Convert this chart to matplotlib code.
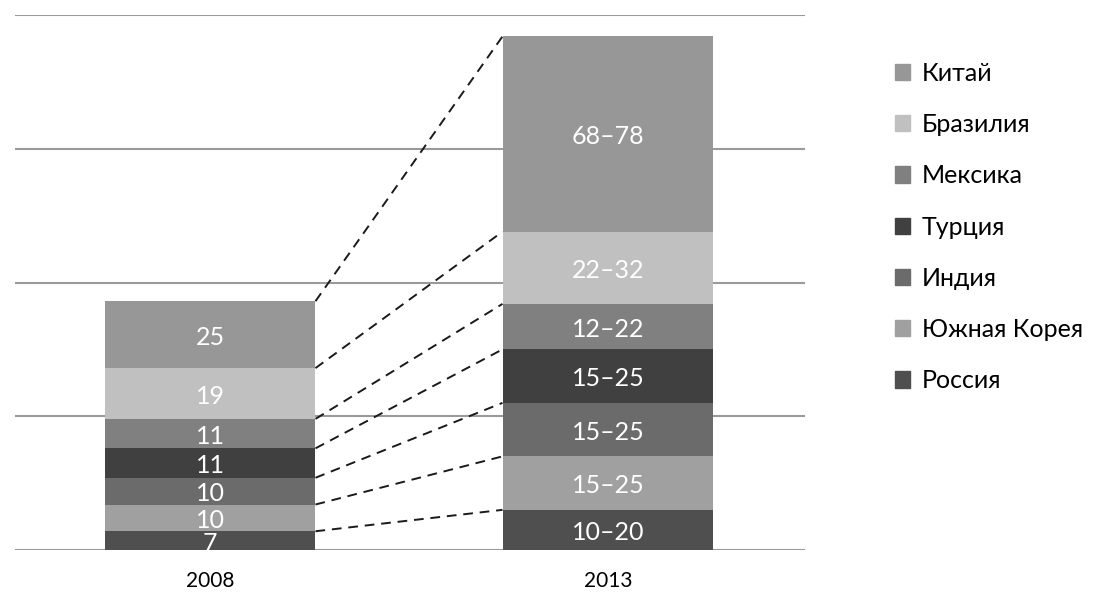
import matplotlib.pyplot as plt
from matplotlib.patches import Patch

plt.rcParams['font.family'] = ['Lato', 'DejaVu Sans']

years = ['2008', '2013']
countries = ['Россия', 'Южная Корея', 'Индия', 'Турция', 'Мексика', 'Бразилия', 'Китай']
colors = ['#4f4f4f', '#a0a0a0', '#6b6b6b', '#404040', '#808080', '#c0c0c0', '#979797']

# 2008: точные значения; 2013: диапазоны, столбец строится по середине диапазона
vals_2008 = [7, 10, 10, 11, 11, 19, 25]
ranges_2013 = [(10, 20), (15, 25), (15, 25), (15, 25), (12, 22), (22, 32), (68, 78)]
vals_2013 = [(lo + hi) / 2 for lo, hi in ranges_2013]

labels_2008 = [str(v) for v in vals_2008]
labels_2013 = [f'{lo}–{hi}' for lo, hi in ranges_2013]

fig = plt.figure(figsize=(10.94, 5.94), dpi=100)
ax = fig.add_axes([0.0137, 0.0741, 0.7221, 0.9006])

width = 0.53
x = [0, 1]
tops = {0: [], 1: []}
for i, col in enumerate([vals_2008, vals_2013]):
    bottom = 0
    labs = labels_2008 if i == 0 else labels_2013
    for v, c, lab in zip(col, colors, labs):
        ax.bar(x[i], v, width, bottom=bottom, color=c, zorder=2)
        ax.annotate(lab, (x[i], bottom + v / 2), xytext=(0, -2), textcoords='offset points',
                    ha='center', va='center', color='white', fontsize=18, zorder=3)
        bottom += v
        tops[i].append(bottom)

# пунктир между верхними границами сегментов
for t0, t1 in zip(tops[0], tops[1]):
    ax.plot([x[0] + width / 2, x[1] - width / 2], [t0, t1],
            color='#1a1a1a', lw=1.4, ls=(0, (5, 3.5)), zorder=1)

ax.set_xlim(-0.49, 1.495)
ax.set_ylim(0, 200)
ax.set_yticks([0, 50, 100, 150, 200])
ax.yaxis.grid(True, color='#9a9a9a', lw=1.5, zorder=0)
ax.set_axisbelow(True)
ax.tick_params(axis='y', left=False, labelleft=False)
ax.tick_params(axis='x', length=0, pad=15, labelsize=15)
ax.set_xticks(x)
ax.set_xticklabels(years)
for s in ax.spines.values():
    s.set_visible(False)

handles = [Patch(color=c, label=n) for c, n in zip(colors, countries)][::-1]
fig.legend(handles=handles, loc='upper left', bbox_to_anchor=(0.8065, 0.917),
           frameon=False, fontsize=18, handlelength=0.62, handleheight=0.62,
           handletextpad=0.45, labelspacing=1.13, borderpad=0)

fig.savefig('out.png', dpi=100)
